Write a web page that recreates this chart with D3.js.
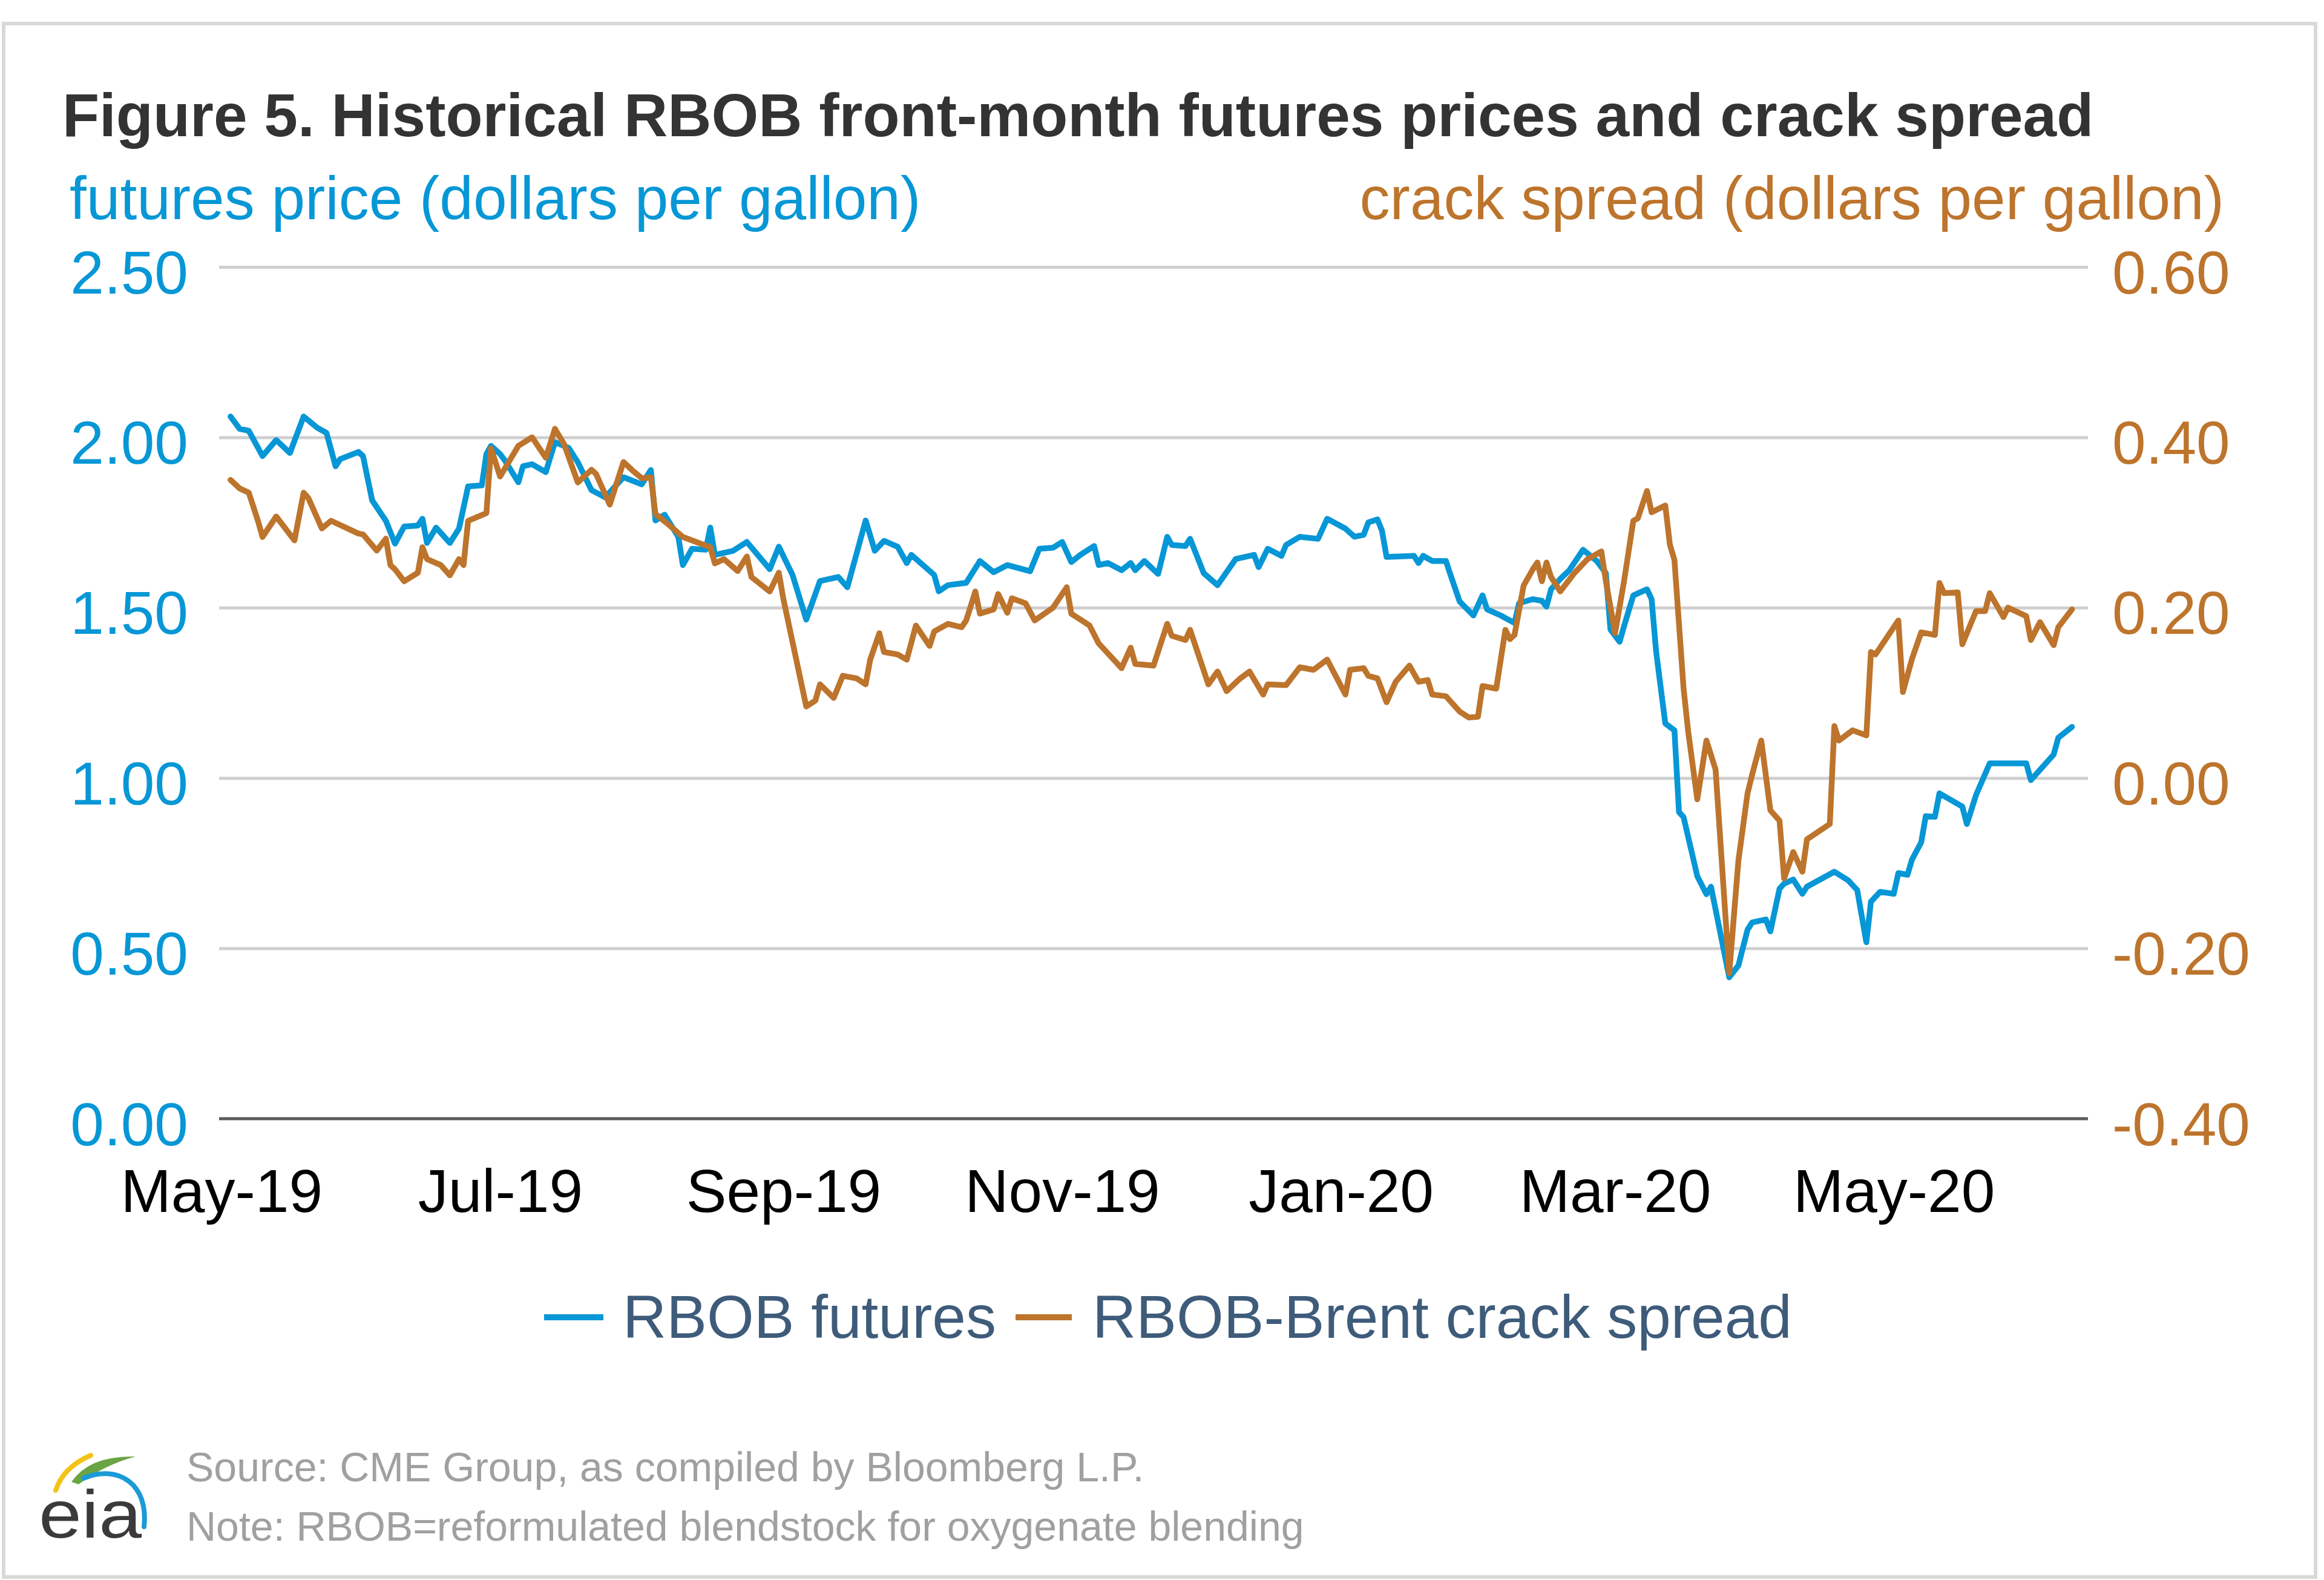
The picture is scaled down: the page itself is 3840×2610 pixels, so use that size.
<!DOCTYPE html>
<html><head><meta charset="utf-8">
<script src="https://cdn.jsdelivr.net/npm/d3@7"></script>
<style>html,body{margin:0;padding:0;background:#fff;} svg{display:block;}</style>
</head><body>
<svg id="chart" width="3840" height="2610"></svg>
<script>
// ---------- DATA ----------
const futuresDates = ["2019-05-03","2019-05-05","2019-05-07","2019-05-10","2019-05-13","2019-05-16","2019-05-19","2019-05-22","2019-05-24","2019-05-26","2019-05-27","2019-05-31","2019-06-01","2019-06-03","2019-06-06","2019-06-08","2019-06-10","2019-06-13","2019-06-14","2019-06-15","2019-06-17","2019-06-20","2019-06-22","2019-06-24","2019-06-27","2019-06-28","2019-06-29","2019-07-01","2019-07-02","2019-07-05","2019-07-06","2019-07-08","2019-07-11","2019-07-13","2019-07-16","2019-07-18","2019-07-21","2019-07-24","2019-07-28","2019-08-01","2019-08-03","2019-08-04","2019-08-06","2019-08-09","2019-08-10","2019-08-12","2019-08-15","2019-08-16","2019-08-17","2019-08-21","2019-08-24","2019-08-29","2019-08-31","2019-09-03","2019-09-06","2019-09-09","2019-09-13","2019-09-15","2019-09-19","2019-09-21","2019-09-23","2019-09-26","2019-09-28","2019-09-29","2019-10-04","2019-10-05","2019-10-07","2019-10-11","2019-10-14","2019-10-17","2019-10-20","2019-10-25","2019-10-27","2019-10-30","2019-11-01","2019-11-03","2019-11-05","2019-11-08","2019-11-09","2019-11-11","2019-11-14","2019-11-16","2019-11-17","2019-11-19","2019-11-22","2019-11-24","2019-11-25","2019-11-28","2019-11-29","2019-12-02","2019-12-05","2019-12-09","2019-12-13","2019-12-14","2019-12-16","2019-12-19","2019-12-20","2019-12-23","2019-12-27","2019-12-29","2020-01-02","2020-01-04","2020-01-06","2020-01-07","2020-01-09","2020-01-10","2020-01-11","2020-01-17","2020-01-18","2020-01-19","2020-01-21","2020-01-24","2020-01-25","2020-01-27","2020-01-30","2020-02-01","2020-02-02","2020-02-05","2020-02-08","2020-02-09","2020-02-12","2020-02-14","2020-02-15","2020-02-16","2020-02-18","2020-02-20","2020-02-23","2020-02-26","2020-02-28","2020-02-29","2020-03-02","2020-03-03","2020-03-05","2020-03-08","2020-03-09","2020-03-10","2020-03-12","2020-03-14","2020-03-15","2020-03-16","2020-03-19","2020-03-21","2020-03-22","2020-03-26","2020-03-28","2020-03-30","2020-03-31","2020-04-03","2020-04-04","2020-04-06","2020-04-07","2020-04-09","2020-04-11","2020-04-12","2020-04-18","2020-04-21","2020-04-23","2020-04-25","2020-04-26","2020-04-28","2020-05-01","2020-05-02","2020-05-04","2020-05-05","2020-05-07","2020-05-08","2020-05-10","2020-05-11","2020-05-16","2020-05-17","2020-05-19","2020-05-22","2020-05-30","2020-05-31","2020-06-05","2020-06-06","2020-06-09"];
const futuresValues = [2.061,2.025,2.019,1.945,1.992,1.954,2.061,2.028,2.013,1.915,1.936,1.957,1.945,1.815,1.755,1.688,1.738,1.741,1.761,1.690,1.735,1.690,1.732,1.856,1.859,1.951,1.975,1.951,1.933,1.868,1.915,1.921,1.898,1.986,1.969,1.927,1.845,1.824,1.883,1.862,1.904,1.756,1.773,1.708,1.625,1.673,1.670,1.735,1.655,1.667,1.693,1.613,1.679,1.596,1.465,1.578,1.590,1.560,1.756,1.667,1.696,1.679,1.631,1.655,1.596,1.548,1.566,1.573,1.637,1.604,1.625,1.607,1.673,1.676,1.693,1.634,1.655,1.681,1.625,1.631,1.610,1.631,1.610,1.637,1.599,1.708,1.684,1.681,1.702,1.601,1.566,1.643,1.655,1.619,1.673,1.652,1.684,1.708,1.702,1.761,1.732,1.708,1.714,1.750,1.759,1.726,1.649,1.652,1.631,1.652,1.637,1.637,1.596,1.518,1.477,1.536,1.495,1.477,1.455,1.513,1.525,1.520,1.503,1.554,1.584,1.610,1.670,1.637,1.601,1.436,1.400,1.447,1.536,1.554,1.525,1.370,1.160,1.140,0.900,0.885,0.712,0.659,0.681,0.415,0.450,0.555,0.576,0.585,0.550,0.675,0.690,0.702,0.660,0.681,0.725,0.700,0.671,0.518,0.637,0.666,0.660,0.721,0.716,0.761,0.811,0.888,0.886,0.955,0.916,0.865,0.950,1.043,1.043,0.994,1.069,1.118,1.150];

const crackDates = ["2019-05-03","2019-05-05","2019-05-07","2019-05-09","2019-05-10","2019-05-13","2019-05-17","2019-05-19","2019-05-20","2019-05-23","2019-05-25","2019-05-31","2019-06-01","2019-06-04","2019-06-06","2019-06-07","2019-06-08","2019-06-10","2019-06-13","2019-06-14","2019-06-15","2019-06-18","2019-06-20","2019-06-22","2019-06-23","2019-06-24","2019-06-28","2019-06-29","2019-07-01","2019-07-05","2019-07-08","2019-07-11","2019-07-13","2019-07-15","2019-07-18","2019-07-21","2019-07-22","2019-07-25","2019-07-28","2019-07-30","2019-08-01","2019-08-03","2019-08-04","2019-08-07","2019-08-10","2019-08-13","2019-08-16","2019-08-17","2019-08-19","2019-08-22","2019-08-24","2019-08-25","2019-08-29","2019-08-31","2019-09-01","2019-09-06","2019-09-08","2019-09-09","2019-09-12","2019-09-14","2019-09-17","2019-09-19","2019-09-20","2019-09-22","2019-09-23","2019-09-26","2019-09-28","2019-09-30","2019-10-03","2019-10-04","2019-10-07","2019-10-10","2019-10-11","2019-10-13","2019-10-14","2019-10-17","2019-10-18","2019-10-20","2019-10-21","2019-10-24","2019-10-26","2019-10-30","2019-11-02","2019-11-03","2019-11-07","2019-11-09","2019-11-14","2019-11-16","2019-11-17","2019-11-21","2019-11-24","2019-11-25","2019-11-28","2019-11-29","2019-12-03","2019-12-05","2019-12-07","2019-12-10","2019-12-12","2019-12-15","2019-12-16","2019-12-20","2019-12-23","2019-12-26","2019-12-29","2020-01-02","2020-01-03","2020-01-06","2020-01-07","2020-01-09","2020-01-11","2020-01-13","2020-01-16","2020-01-18","2020-01-20","2020-01-21","2020-01-24","2020-01-25","2020-01-27","2020-01-29","2020-01-31","2020-02-01","2020-02-04","2020-02-06","2020-02-07","2020-02-08","2020-02-10","2020-02-12","2020-02-13","2020-02-14","2020-02-15","2020-02-16","2020-02-18","2020-02-21","2020-02-24","2020-02-27","2020-02-28","2020-03-01","2020-03-03","2020-03-05","2020-03-06","2020-03-08","2020-03-09","2020-03-12","2020-03-13","2020-03-14","2020-03-16","2020-03-17","2020-03-19","2020-03-21","2020-03-23","2020-03-26","2020-03-28","2020-03-30","2020-03-31","2020-04-02","2020-04-04","2020-04-06","2020-04-07","2020-04-09","2020-04-11","2020-04-12","2020-04-17","2020-04-18","2020-04-19","2020-04-22","2020-04-25","2020-04-26","2020-04-27","2020-05-02","2020-05-03","2020-05-05","2020-05-07","2020-05-10","2020-05-11","2020-05-12","2020-05-15","2020-05-16","2020-05-19","2020-05-21","2020-05-22","2020-05-25","2020-05-26","2020-05-30","2020-05-31","2020-06-02","2020-06-05","2020-06-06","2020-06-09"];
const crackValues = [0.350,0.340,0.335,0.302,0.283,0.307,0.279,0.335,0.329,0.293,0.302,0.287,0.286,0.267,0.281,0.250,0.245,0.231,0.241,0.271,0.257,0.250,0.238,0.257,0.250,0.302,0.311,0.387,0.354,0.390,0.400,0.376,0.410,0.392,0.347,0.362,0.357,0.321,0.371,0.361,0.352,0.353,0.310,0.297,0.283,0.277,0.271,0.252,0.257,0.243,0.260,0.236,0.219,0.241,0.210,0.084,0.091,0.110,0.094,0.120,0.117,0.110,0.139,0.170,0.148,0.145,0.139,0.179,0.155,0.172,0.181,0.177,0.185,0.219,0.193,0.198,0.216,0.194,0.211,0.205,0.185,0.200,0.224,0.193,0.179,0.158,0.129,0.153,0.134,0.132,0.181,0.167,0.162,0.174,0.110,0.125,0.102,0.117,0.125,0.098,0.110,0.109,0.130,0.127,0.139,0.098,0.127,0.129,0.120,0.117,0.089,0.113,0.132,0.113,0.115,0.098,0.096,0.090,0.078,0.071,0.072,0.108,0.105,0.174,0.163,0.168,0.226,0.245,0.253,0.231,0.253,0.236,0.219,0.240,0.257,0.266,0.231,0.170,0.232,0.302,0.305,0.337,0.312,0.320,0.274,0.256,0.105,0.055,-0.025,0.044,0.010,-0.229,-0.097,-0.018,0.004,0.044,-0.038,-0.050,-0.118,-0.087,-0.110,-0.072,-0.054,0.061,0.044,0.056,0.050,0.148,0.145,0.185,0.101,0.140,0.171,0.168,0.229,0.217,0.218,0.157,0.196,0.196,0.217,0.189,0.200,0.190,0.162,0.183,0.156,0.177,0.198];

const leftTicks = [0, 0.5, 1.0, 1.5, 2.0, 2.5];
const rightTicks = [-0.4, -0.2, 0.0, 0.2, 0.4, 0.6];
const xTickDates = ["2019-05-01","2019-07-01","2019-09-01","2019-11-01","2020-01-01","2020-03-01","2020-05-01"];
const xTickLabels = ["May-19","Jul-19","Sep-19","Nov-19","Jan-20","Mar-20","May-20"];
const seriesNames = ["RBOB futures", "RBOB-Brent crack spread"];
const titleText = "Figure 5. Historical RBOB front-month futures prices and crack spread";
const leftAxisTitle = "futures price (dollars per gallon)";
const rightAxisTitle = "crack spread (dollars per gallon)";
const sourceText = "Source: CME Group, as compiled by Bloomberg L.P.";
const noteText = "Note: RBOB=reformulated blendstock for oxygenate blending";

// ---------- DRAWING ----------
const W = 3840, H = 2610;
const plot = {left: 362, right: 3450, top: 441, bottom: 1848};
const BLUE = "#0797d6", ORANGE = "#bd742c";
const FONT = "'Liberation Sans', Arial, Helvetica, sans-serif";
const parse = d3.utcParse("%Y-%m-%d");
const fmt = d3.formatLocale({decimal: ".", thousands: ",", grouping: [3], currency: ["$", ""], minus: "-"}).format(".2f");

const svg = d3.select("#chart");
svg.append("rect").attr("width", W).attr("height", H).attr("fill", "#fff");
svg.append("rect").attr("x", 6).attr("y", 39).attr("width", 3820).attr("height", 2566)
  .attr("fill", "none").attr("stroke", "#d9d9d9").attr("stroke-width", 6);

const x = d3.scaleUtc().domain([Date.UTC(2019, 3, 30, 12), Date.UTC(2020, 5, 12, 12)]).range([plot.left, plot.right]);
const yL = d3.scaleLinear().domain([0, 2.5]).range([plot.bottom, plot.top]);
const yR = d3.scaleLinear().domain([-0.4, 0.6]).range([plot.bottom, plot.top]);

// gridlines
const grid = svg.append("g").attr("transform", `translate(${plot.left},0)`)
  .call(d3.axisLeft(yL).tickValues(leftTicks.filter(v => v !== 0)).tickSize(-(plot.right - plot.left)).tickFormat(""));
grid.select(".domain").remove();
grid.selectAll("line").attr("stroke", "#cfcfcf").attr("stroke-width", 5);

// zero / category axis line
const xAxisG = svg.append("g").attr("transform", `translate(0,${yL(0)})`)
  .call(d3.axisBottom(x).tickValues(xTickDates.map(parse)).tickSize(0).tickPadding(83)
    .tickFormat((d, i) => xTickLabels[i]));
xAxisG.select(".domain").attr("stroke", "#5a5a5a").attr("stroke-width", 5)
  .attr("d", `M${plot.left},0H${plot.right}`);
xAxisG.selectAll("text").attr("fill", "#000").attr("font-size", 100).attr("font-family", FONT);

// left axis
const gL = svg.append("g").attr("transform", `translate(${plot.left},0)`)
  .call(d3.axisLeft(yL).tickValues(leftTicks).tickSize(0).tickPadding(51).tickFormat(fmt));
gL.select(".domain").remove();
gL.selectAll("text").attr("fill", BLUE).attr("font-size", 100).attr("font-family", FONT).attr("dy", "0.43em");

// right axis
const gR = svg.append("g").attr("transform", `translate(${plot.right},0)`)
  .call(d3.axisRight(yR).tickValues(rightTicks).tickSize(0).tickPadding(40).tickFormat(fmt));
gR.select(".domain").remove();
gR.selectAll("text").attr("fill", ORANGE).attr("font-size", 100).attr("font-family", FONT).attr("dy", "0.43em");

// series
const futures = futuresDates.map((d, i) => ({date: parse(d), value: futuresValues[i]}));
const crack = crackDates.map((d, i) => ({date: parse(d), value: crackValues[i]}));
const lineL = d3.line().x(d => x(d.date)).y(d => yL(d.value));
const lineR = d3.line().x(d => x(d.date)).y(d => yR(d.value));
svg.append("path").datum(futures).attr("d", lineL).attr("fill", "none").attr("stroke", BLUE)
  .attr("stroke-width", 9.5).attr("stroke-linejoin", "round").attr("stroke-linecap", "round");
svg.append("path").datum(crack).attr("d", lineR).attr("fill", "none").attr("stroke", ORANGE)
  .attr("stroke-width", 9.5).attr("stroke-linejoin", "round").attr("stroke-linecap", "round");

// titles
svg.append("text").attr("x", 103).attr("y", 225).attr("font-family", FONT).attr("font-size", 100)
  .attr("font-weight", "bold").attr("fill", "#333").text(titleText);
svg.append("text").attr("x", 115).attr("y", 362).attr("font-family", FONT).attr("font-size", 100)
  .attr("fill", BLUE).text(leftAxisTitle);
svg.append("text").attr("x", 3675).attr("y", 362).attr("text-anchor", "end").attr("font-family", FONT)
  .attr("font-size", 100).attr("fill", ORANGE).text(rightAxisTitle);

// legend
const legend = [
  {name: seriesNames[0], color: BLUE, x0: 899, x1: 997, tx: 1029},
  {name: seriesNames[1], color: ORANGE, x0: 1678, x1: 1771, tx: 1805}
];
const lg = svg.append("g");
legend.forEach(l => {
  lg.append("line").attr("x1", l.x0).attr("x2", l.x1).attr("y1", 2176).attr("y2", 2176)
    .attr("stroke", l.color).attr("stroke-width", 10);
  lg.append("text").attr("x", l.tx).attr("y", 2210).attr("font-family", FONT).attr("font-size", 100)
    .attr("fill", "#3e5b7a").text(l.name);
});

// source / note
svg.append("text").attr("x", 308).attr("y", 2447).attr("font-family", FONT).attr("font-size", 68)
  .attr("fill", "#a0a0a0").text(sourceText);
svg.append("text").attr("x", 308).attr("y", 2545).attr("font-family", FONT).attr("font-size", 68)
  .attr("fill", "#a0a0a0").text(noteText);

// eia logo
const logo = svg.append("g");
logo.append("path").attr("d", "M92,2462 Q104,2424 150,2404").attr("fill", "none")
  .attr("stroke", "#f3c316").attr("stroke-width", 8).attr("stroke-linecap", "round");
logo.append("path").attr("d", "M118,2448 Q148,2404 224,2406 Q172,2420 130,2452 Z").attr("fill", "#6aa443");
logo.append("path").attr("d", "M138,2442 C196,2418 246,2452 238,2522").attr("fill", "none")
  .attr("stroke", "#1a9bd7").attr("stroke-width", 8).attr("stroke-linecap", "round");
logo.append("text").attr("x", 64).attr("y", 2540).attr("font-family", FONT).attr("font-size", 112)
  .attr("fill", "#3a3a3a").attr("textLength", 170).attr("lengthAdjust", "spacingAndGlyphs").text("eia");
</script>
</body></html>
